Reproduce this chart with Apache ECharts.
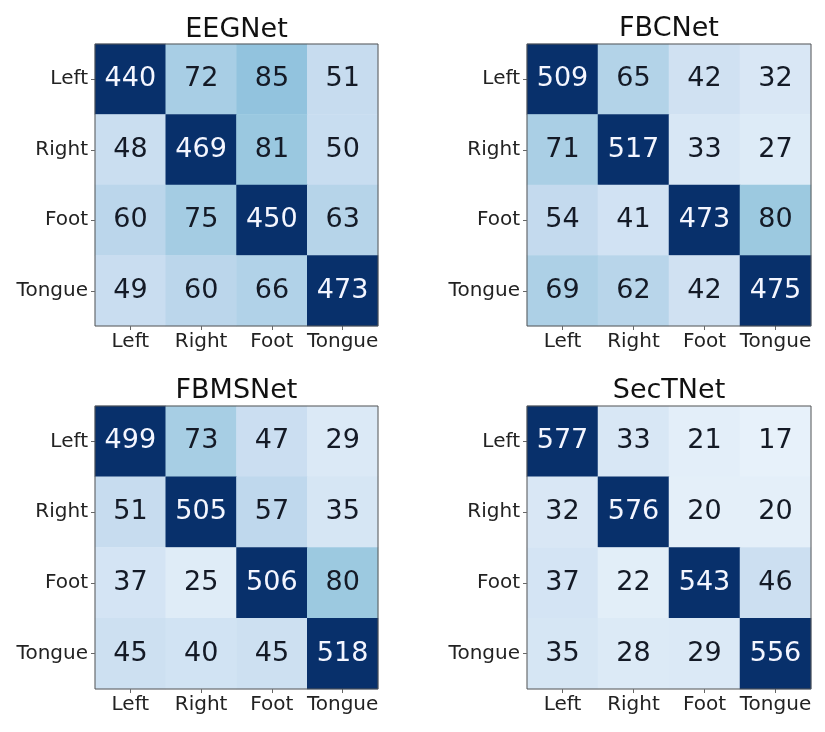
<!DOCTYPE html>
<html>
<head>
<meta charset="utf-8">
<script src="https://cdn.jsdelivr.net/npm/echarts@6/dist/echarts.min.js"></script>
<style>
html,body{margin:0;padding:0;background:#fff;}
#c{width:825px;height:732px;}
</style>
</head>
<body>
<div id="c"></div>
<script>
const classes = ['Left', 'Right', 'Foot', 'Tongue'];
const modelNames = ['EEGNet', 'FBCNet', 'FBMSNet', 'SecTNet'];
const eegnet = [
  [440, 72, 85, 51],
  [48, 469, 81, 50],
  [60, 75, 450, 63],
  [49, 60, 66, 473]
];
const fbcnet = [
  [509, 65, 42, 32],
  [71, 517, 33, 27],
  [54, 41, 473, 80],
  [69, 62, 42, 475]
];
const fbmsnet = [
  [499, 73, 47, 29],
  [51, 505, 57, 35],
  [37, 25, 506, 80],
  [45, 40, 45, 518]
];
const sectnet = [
  [577, 33, 21, 17],
  [32, 576, 20, 20],
  [37, 22, 543, 46],
  [35, 28, 29, 556]
];
const matrices = [eegnet, fbcnet, fbmsnet, sectnet];

const FONT = 'DejaVu Sans';
const blues = ['#f7fbff','#deebf7','#c6dbef','#9ecae1','#6baed6','#4292c6','#2171b5','#08519c','#08306b'];
const grids = [
  {left: 95, top: 44, width: 283, height: 282},
  {left: 527, top: 44, width: 284, height: 282},
  {left: 95, top: 406, width: 283, height: 283},
  {left: 527, top: 406, width: 284, height: 283}
];
const titlePos = [
  {x: 236.5, y: 16},
  {x: 669, y: 15},
  {x: 236.5, y: 377},
  {x: 669, y: 377}
];

const option = {
  backgroundColor: '#fff',
  animation: false,
  title: modelNames.map((n, i) => ({
    text: n,
    left: titlePos[i].x,
    top: titlePos[i].y,
    textAlign: 'center',
    textStyle: {fontFamily: FONT, fontSize: 27, fontWeight: 'normal', color: '#111'},
    padding: 0
  })),
  grid: grids.map(g => Object.assign({show: true, borderColor: '#555', borderWidth: 1, backgroundColor: 'transparent', containLabel: false, z: 5}, g)),
  xAxis: grids.map((g, i) => ({
    type: 'category', gridIndex: i, data: classes, position: 'bottom',
    axisLine: {show: false},
    axisTick: {show: true, alignWithLabel: true, length: 4, lineStyle: {color: '#666'}},
    axisLabel: {fontFamily: FONT, fontSize: 20, color: '#222', margin: 6, interval: 0},
    splitLine: {show: false}
  })),
  yAxis: grids.map((g, i) => ({
    type: 'category', gridIndex: i, data: classes, inverse: true,
    axisLine: {show: false},
    axisTick: {show: true, alignWithLabel: true, length: 4, lineStyle: {color: '#666'}},
    axisLabel: {fontFamily: FONT, fontSize: 20, color: '#222', margin: 7, interval: 0},
    splitLine: {show: false}
  })),
  visualMap: matrices.map((m, i) => ({
    type: 'continuous', show: false, seriesIndex: i, min: 0, max: 210,
    inRange: {color: blues}
  })),
  series: matrices.map((m, i) => ({
    type: 'heatmap', xAxisIndex: i, yAxisIndex: i,
    data: m.flatMap((row, r) => row.map((v, c) => ({
      value: [c, r, v],
      label: {color: v > 200 ? '#f4f6ff' : '#141a26'}
    }))),
    label: {show: true, fontFamily: FONT, fontSize: 27, formatter: p => p.value[2]},
    itemStyle: {borderWidth: 0},
    emphasis: {disabled: true}
  }))
};

const chart = echarts.init(document.getElementById('c'), null, {renderer: 'canvas'});
chart.setOption(option);
</script>
</body>
</html>
